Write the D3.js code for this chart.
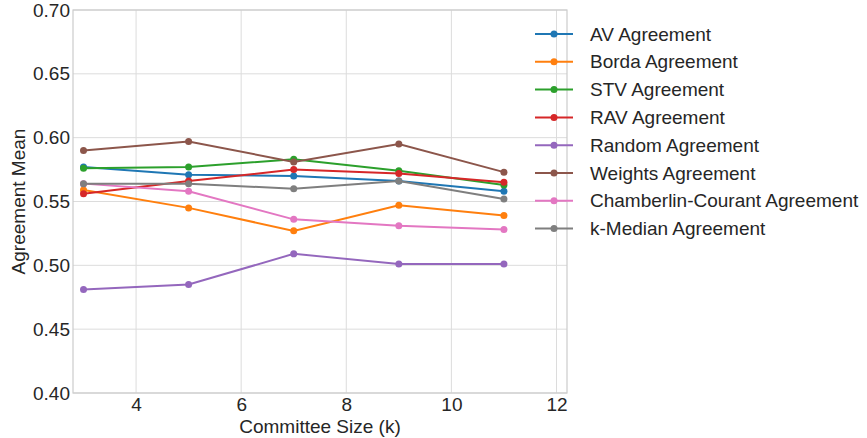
<!DOCTYPE html>
<html>
<head>
<meta charset="utf-8">
<script src="https://cdn.jsdelivr.net/npm/d3@7"></script>
<style>
  body { margin: 0; background: #fff; }
  text { font-family: "Liberation Sans", Arial, sans-serif; fill: #262626; }
</style>
</head>
<body>
<div id="chart"></div>
<script>
var committeeSizes = [3, 5, 7, 9, 11];

var seriesNames = [
    "AV Agreement",
    "Borda Agreement",
    "STV Agreement",
    "RAV Agreement",
    "Random Agreement",
    "Weights Agreement",
    "Chamberlin-Courant Agreement",
    "k-Median Agreement"
];

var avValues = [0.577, 0.571, 0.570, 0.566, 0.558];
var bordaValues = [0.559, 0.545, 0.527, 0.547, 0.539];
var stvValues = [0.576, 0.577, 0.583, 0.574, 0.563];
var ravValues = [0.556, 0.566, 0.575, 0.572, 0.565];
var randomValues = [0.481, 0.485, 0.509, 0.501, 0.501];
var weightsValues = [0.590, 0.597, 0.581, 0.595, 0.573];
var ccValues = [0.564, 0.558, 0.536, 0.531, 0.528];
var kMedianValues = [0.564, 0.564, 0.560, 0.566, 0.552];

var xTicks = [4, 6, 8, 10, 12];
var yTicks = [0.40, 0.45, 0.50, 0.55, 0.60, 0.65, 0.70];

var allValues = [avValues, bordaValues, stvValues, ravValues, randomValues, weightsValues, ccValues, kMedianValues];
var colors = ["#1f77b4", "#ff7f0e", "#2ca02c", "#d62728", "#9467bd", "#8c564b", "#e377c2", "#7f7f7f"];

var width = 867, height = 438;
var margin = {top: 10, right: 300, bottom: 45, left: 73};

var svg = d3.select("#chart")
    .append("svg")
    .attr("width", width)
    .attr("height", height);

var x = d3.scaleLinear()
    .domain([2.8, 12.2])
    .range([margin.left, width - margin.right]);

var y = d3.scaleLinear()
    .domain([0.40, 0.70])
    .range([height - margin.bottom, margin.top]);

// grid
svg.append("g")
    .selectAll("line")
    .data(xTicks)
    .enter()
    .append("line")
    .attr("x1", function(d) { return x(d); })
    .attr("x2", function(d) { return x(d); })
    .attr("y1", y(0.40))
    .attr("y2", y(0.70))
    .attr("stroke", "#dcdcdc")
    .attr("stroke-width", 1);

svg.append("g")
    .selectAll("line")
    .data(yTicks)
    .enter()
    .append("line")
    .attr("x1", x(2.8))
    .attr("x2", x(12.2))
    .attr("y1", function(d) { return y(d); })
    .attr("y2", function(d) { return y(d); })
    .attr("stroke", "#dcdcdc")
    .attr("stroke-width", 1);

// frame
svg.append("rect")
    .attr("x", x(2.8))
    .attr("y", y(0.70))
    .attr("width", x(12.2) - x(2.8))
    .attr("height", y(0.40) - y(0.70))
    .attr("fill", "none")
    .attr("stroke", "#cccccc")
    .attr("stroke-width", 1.2);

// axes
var xAxis = svg.append("g")
    .attr("transform", "translate(0," + (height - margin.bottom) + ")")
    .call(d3.axisBottom(x).tickValues(xTicks).tickSize(0).tickPadding(5).tickFormat(d3.format("d")));
xAxis.select(".domain").remove();
xAxis.selectAll("text").style("font-size", "19px").attr("fill", "#262626");

var yAxis = svg.append("g")
    .attr("transform", "translate(" + margin.left + ",0)")
    .call(d3.axisLeft(y).tickValues(yTicks).tickSize(0).tickPadding(3).tickFormat(d3.format(".2f")));
yAxis.select(".domain").remove();
yAxis.selectAll("text").style("font-size", "19px").attr("fill", "#262626");

svg.append("text")
    .attr("x", (x(2.8) + x(12.2)) / 2)
    .attr("y", height - 5)
    .attr("text-anchor", "middle")
    .style("font-size", "19px")
    .text("Committee Size (k)");

svg.append("text")
    .attr("transform", "translate(25," + ((y(0.40) + y(0.70)) / 2) + ") rotate(-90)")
    .attr("text-anchor", "middle")
    .style("font-size", "19px")
    .text("Agreement Mean");

// lines
var line = d3.line()
    .x(function(d, i) { return x(committeeSizes[i]); })
    .y(function(d) { return y(d); });

allValues.forEach(function(vals, k) {
    var g = svg.append("g");
    g.append("path")
        .attr("d", line(vals))
        .attr("fill", "none")
        .attr("stroke", colors[k])
        .attr("stroke-width", 2);
    g.selectAll("circle")
        .data(vals)
        .enter()
        .append("circle")
        .attr("cx", function(d, i) { return x(committeeSizes[i]); })
        .attr("cy", function(d) { return y(d); })
        .attr("r", 3.5)
        .attr("fill", colors[k]);
});

// legend
var legend = svg.append("g").attr("transform", "translate(535,34)");
seriesNames.forEach(function(name, k) {
    var row = legend.append("g").attr("transform", "translate(0," + (k * 27.8) + ")");
    row.append("line")
        .attr("x1", 0).attr("x2", 38)
        .attr("stroke", colors[k])
        .attr("stroke-width", 2);
    row.append("circle")
        .attr("cx", 19)
        .attr("r", 3.5)
        .attr("fill", colors[k]);
    row.append("text")
        .attr("x", 55)
        .attr("dy", "0.35em")
        .style("font-size", "19px")
        .text(name);
});
</script>
</body>
</html>
